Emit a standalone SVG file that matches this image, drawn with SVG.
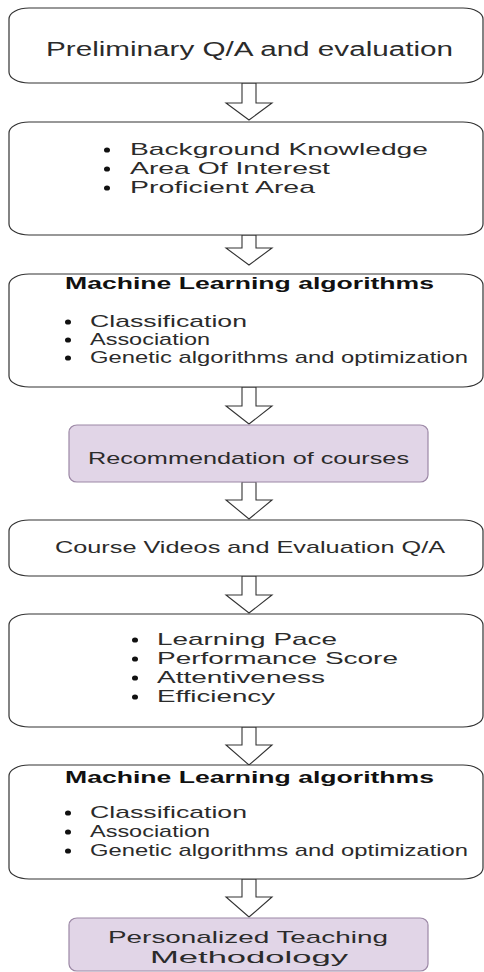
<svg xmlns="http://www.w3.org/2000/svg" width="484" height="972" viewBox="0 0 484 972">
<style>
.box{fill:#fff;stroke:#333;stroke-width:1.2}
.pbox{fill:#e1d5e7;stroke:#9c88a6;stroke-width:1.2}
.arr{fill:#fff;stroke:#333;stroke-width:1.1;stroke-linejoin:miter}
.t{font-family:"Liberation Sans",Arial,sans-serif;fill:#2b2b2b;font-size:17px}
.big{font-size:20px}
.b{font-weight:bold;fill:#111}
.dot{fill:#111}
</style>
<rect width="484" height="972" fill="#fff"/>
<g id="connectors">
<path class="arr" d="M242,83 L256,83 L256,103 L272,103 L249,120 L226,103 L242,103 Z"/>
<path class="arr" d="M242,235 L256,235 L256,248 L272,248 L249,265 L226,248 L242,248 Z"/>
<path class="arr" d="M242,387 L256,387 L256,406 L272,406 L249,424 L226,406 L242,406 Z"/>
<path class="arr" d="M242,482 L256,482 L256,500 L272,500 L249,519 L226,500 L242,500 Z"/>
<path class="arr" d="M242,576 L256,576 L256,595 L272,595 L249,613 L226,595 L242,595 Z"/>
<path class="arr" d="M242,727 L256,727 L256,745 L272,745 L249,765 L226,745 L242,745 Z"/>
<path class="arr" d="M242,879 L256,879 L256,897 L272,897 L249,917 L226,897 L242,897 Z"/>
</g>
<g id="n1">
<rect class="box" x="9" y="8" width="474" height="75" rx="20" ry="11"/>
<text class="t big" x="46" y="56" textLength="407" lengthAdjust="spacingAndGlyphs">Preliminary Q/A and evaluation</text>
</g>
<g id="n2">
<rect class="box" x="9" y="122" width="474" height="113" rx="20" ry="11"/>
<ellipse class="dot" cx="107" cy="150" rx="3" ry="2.6"/><text class="t" x="130" y="155" textLength="298" lengthAdjust="spacingAndGlyphs">Background Knowledge</text>
<ellipse class="dot" cx="107" cy="169" rx="3" ry="2.6"/><text class="t" x="130" y="174" textLength="200" lengthAdjust="spacingAndGlyphs">Area Of Interest</text>
<ellipse class="dot" cx="107" cy="188" rx="3" ry="2.6"/><text class="t" x="130" y="193" textLength="185" lengthAdjust="spacingAndGlyphs">Proficient Area</text>
</g>
<g id="n3">
<rect class="box" x="9" y="274" width="474" height="113" rx="20" ry="11"/>
<text class="t b" x="65" y="289" textLength="369" lengthAdjust="spacingAndGlyphs">Machine Learning algorithms</text>
<ellipse class="dot" cx="68" cy="322" rx="3" ry="2.6"/><text class="t" x="90" y="327" textLength="157" lengthAdjust="spacingAndGlyphs">Classification</text>
<ellipse class="dot" cx="68" cy="340" rx="3" ry="2.6"/><text class="t" x="90" y="345" textLength="120" lengthAdjust="spacingAndGlyphs">Association</text>
<ellipse class="dot" cx="68" cy="358" rx="3" ry="2.6"/><text class="t" x="90" y="363" textLength="378" lengthAdjust="spacingAndGlyphs">Genetic algorithms and optimization</text>
</g>
<g id="n4">
<rect class="pbox" x="69" y="425" width="359" height="57" rx="8" ry="7"/>
<text class="t" x="88" y="464" textLength="321" lengthAdjust="spacingAndGlyphs">Recommendation of courses</text>
</g>
<g id="n5">
<rect class="box" x="9" y="520" width="474" height="56" rx="20" ry="11"/>
<text class="t" x="55" y="553" textLength="390" lengthAdjust="spacingAndGlyphs">Course Videos and Evaluation Q/A</text>
</g>
<g id="n6">
<rect class="box" x="9" y="614" width="474" height="113" rx="20" ry="11"/>
<ellipse class="dot" cx="135" cy="640" rx="3" ry="2.6"/><text class="t" x="157" y="645" textLength="180" lengthAdjust="spacingAndGlyphs">Learning Pace</text>
<ellipse class="dot" cx="135" cy="659" rx="3" ry="2.6"/><text class="t" x="157" y="664" textLength="241" lengthAdjust="spacingAndGlyphs">Performance Score</text>
<ellipse class="dot" cx="135" cy="678" rx="3" ry="2.6"/><text class="t" x="157" y="683" textLength="168" lengthAdjust="spacingAndGlyphs">Attentiveness</text>
<ellipse class="dot" cx="135" cy="697" rx="3" ry="2.6"/><text class="t" x="157" y="702" textLength="118" lengthAdjust="spacingAndGlyphs">Efficiency</text>
</g>
<g id="n7">
<rect class="box" x="9" y="765" width="474" height="114" rx="20" ry="11"/>
<text class="t b" x="65" y="783" textLength="369" lengthAdjust="spacingAndGlyphs">Machine Learning algorithms</text>
<ellipse class="dot" cx="68" cy="813" rx="3" ry="2.6"/><text class="t" x="90" y="818" textLength="157" lengthAdjust="spacingAndGlyphs">Classification</text>
<ellipse class="dot" cx="68" cy="832" rx="3" ry="2.6"/><text class="t" x="90" y="837" textLength="120" lengthAdjust="spacingAndGlyphs">Association</text>
<ellipse class="dot" cx="68" cy="851" rx="3" ry="2.6"/><text class="t" x="90" y="856" textLength="378" lengthAdjust="spacingAndGlyphs">Genetic algorithms and optimization</text>
</g>
<g id="n8">
<rect class="pbox" x="69" y="918" width="359" height="53" rx="8" ry="7"/>
<text class="t" x="108" y="943" textLength="280" lengthAdjust="spacingAndGlyphs">Personalized Teaching</text>
<text class="t" x="150" y="963" textLength="198" lengthAdjust="spacingAndGlyphs">Methodology</text>
</g>
</svg>
